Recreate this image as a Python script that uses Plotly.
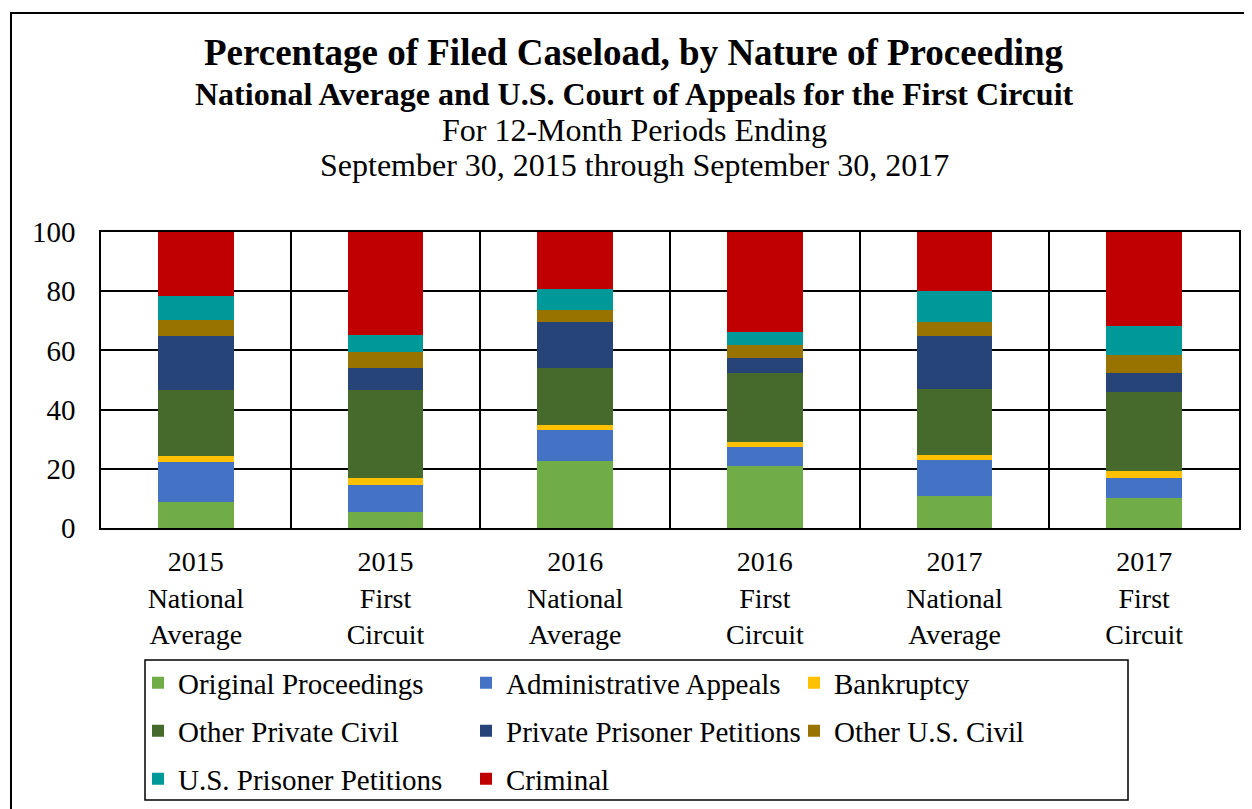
import plotly.graph_objects as go

# Categories (x axis)
periods = [
    "2015<br>National<br>Average",
    "2015<br>First<br>Circuit",
    "2016<br>National<br>Average",
    "2016<br>First<br>Circuit",
    "2017<br>National<br>Average",
    "2017<br>First<br>Circuit",
]

# Percent of filed caseload per nature of proceeding
original_proceedings = [8.9, 5.4, 22.6, 21.1, 10.7, 10.2]
administrative_appeals = [13.4, 9.2, 10.6, 6.3, 12.2, 6.7]
bankruptcy = [1.9, 2.3, 1.5, 1.6, 1.6, 2.5]
other_private_civil = [22.5, 29.8, 19.5, 23.3, 22.6, 26.4]
private_prisoner_petitions = [18.3, 7.5, 15.3, 5.3, 17.6, 6.5]
other_us_civil = [5.3, 5.2, 4.2, 4.3, 4.8, 6.1]
us_prisoner_petitions = [8.0, 5.9, 7.1, 4.4, 10.6, 9.9]
criminal = [21.7, 34.7, 19.2, 33.7, 19.9, 31.7]

y_ticks = [0, 20, 40, 60, 80, 100]

FONT = "Times New Roman, Liberation Serif, serif"

series = [
    ("Original Proceedings", original_proceedings, "#70AD47", "legend"),
    ("Administrative Appeals", administrative_appeals, "#4472C4", "legend"),
    ("Bankruptcy", bankruptcy, "#FFC000", "legend"),
    ("Other Private Civil", other_private_civil, "#456A2C", "legend2"),
    ("Private Prisoner Petitions", private_prisoner_petitions, "#264478", "legend2"),
    ("Other U.S. Civil", other_us_civil, "#987300", "legend2"),
    ("U.S. Prisoner Petitions", us_prisoner_petitions, "#009999", "legend3"),
    ("Criminal", criminal, "#C00000", "legend3"),
]

fig = go.Figure()
for name, vals, color, leg in series:
    fig.add_trace(go.Bar(
        x=periods, y=vals, name=name, legend=leg,
        marker=dict(color=color, line=dict(width=0)),
    ))

# page body has an 8px margin, so the figure is drawn 8px smaller / shifted
OFF = 8
W, H = 1252 - OFF, 809 - OFF
# plot area in window pixels: left 101, right 1239, top 232, bottom 528
L, R, T, B = 101, 1239, 232, 528
pw, ph = R - L, B - T


def px_x(x):
    return (x - L) / pw


def px_y(y):
    return (B - y) / ph


legend_common = dict(
    orientation="h", xanchor="left", yanchor="middle",
    entrywidth=283, entrywidthmode="pixels",
    font=dict(family=FONT, size=29, color="black"),
    bgcolor="rgba(0,0,0,0)", borderwidth=0, traceorder="normal",
    itemclick=False,
)

fig.update_layout(
    width=W, height=H,
    margin=dict(l=L - OFF, r=W - (R - OFF), t=T - OFF, b=H - (B - OFF), autoexpand=False),
    paper_bgcolor="white", plot_bgcolor="white",
    barmode="stack", bargap=0.6,
    font=dict(family=FONT, size=29, color="black"),
    showlegend=True,
    legend=dict(x=px_x(138), y=px_y(683), **legend_common),
    legend2=dict(x=px_x(138), y=px_y(731), **legend_common),
    legend3=dict(x=px_x(138), y=px_y(779), **legend_common),
    xaxis=dict(
        type="category", tickson="boundaries",
        showgrid=True, gridcolor="black", gridwidth=1.5,
        showline=True, linecolor="black", linewidth=1.5, mirror=True,
        ticks="", ticklabelstandoff=8,
        tickfont=dict(family=FONT, size=28, color="black"),
    ),
    yaxis=dict(
        range=[0, 100], tickvals=y_ticks,
        showgrid=True, gridcolor="black", gridwidth=1.5,
        showline=True, linecolor="black", linewidth=1.5, mirror=True,
        zeroline=False, ticks="", ticklabelstandoff=18,
        tickfont=dict(family=FONT, size=29, color="black"),
    ),
)

titles = [
    ("<b>Percentage of Filed Caseload, by Nature of Proceeding</b>", 37, 52),
    ("<b>National Average and U.S. Court of Appeals for the First Circuit</b>", 32, 94),
    ("For 12-Month Periods Ending", 32, 130),
    ("September 30, 2015 through September 30, 2017", 32, 165),
]
for text, size, ypix in titles:
    fig.add_annotation(
        text=text, xref="paper", yref="paper",
        x=px_x(634), y=px_y(ypix), xanchor="center", yanchor="middle",
        showarrow=False, font=dict(family=FONT, size=size, color="black"),
    )

# legend box and outer chart frame
fig.add_shape(type="rect", xref="paper", yref="paper",
              x0=px_x(145), x1=px_x(1128), y0=px_y(800), y1=px_y(660),
              line=dict(color="black", width=1.5), layer="below")
fig.add_shape(type="rect", xref="paper", yref="paper",
              x0=px_x(11), x1=px_x(1300), y0=px_y(900), y1=px_y(13),
              line=dict(color="black", width=2), layer="below")

fig.write_html("out.html")
